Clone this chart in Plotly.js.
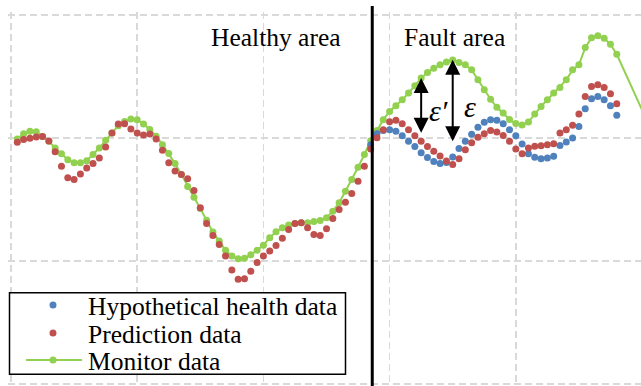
<!DOCTYPE html>
<html>
<head>
<meta charset="utf-8">
<script src="https://cdn.plot.ly/plotly-3.0.1.min.js"></script>
<style>html,body{margin:0;padding:0;background:#fff;}#chart{width:641px;height:386px;}</style>
</head>
<body>
<div id="chart"></div>
<script>
// sample index of each point (x axis)
const monitorX = [0,1,2,3,4,5,6,7,8,9,10,11,12,13,14,15,16,17,18,19,20,21,22,23,24,25,26,27,28,29,30,31,32,33,34,35,36,37,38,39,40,41,42,43,44,45,46,47,48,49,50,51,52,53,54,55,56,57,58,59,60,61,62,63,64,65,66,67,68,69,70,71,72,73,74,75,76,77,78,79,80,81,82,83,84,85,86,87,88,89,90,91,92,93,94,95,100];
const monitorData = [1.992,2.035,2.054,2.051,2.013,1.973,1.919,1.871,1.824,1.798,1.798,1.816,1.865,1.919,1.981,2.041,2.100,2.135,2.154,2.149,2.114,2.070,2.015,1.946,1.873,1.792,1.703,1.605,1.519,1.427,1.332,1.235,1.162,1.087,1.040,1.019,1.023,1.050,1.087,1.129,1.189,1.238,1.271,1.292,1.305,1.311,1.311,1.322,1.330,1.352,1.405,1.473,1.567,1.662,1.762,1.865,1.978,2.060,2.149,2.216,2.262,2.311,2.365,2.424,2.487,2.532,2.568,2.595,2.617,2.635,2.613,2.595,2.554,2.473,2.392,2.315,2.250,2.203,2.151,2.118,2.106,2.130,2.195,2.257,2.311,2.365,2.411,2.473,2.554,2.595,2.735,2.816,2.832,2.811,2.762,2.681,2.116];

const predictionX = [0,1,2,3,4,5,6,7,8,9,10,11,12,13,14,15,16,17,18,19,20,21,22,23,24,25,26,27,28,29,30,31,32,33,34,35,36,37,38,39,40,41,42,43,44,45,46,47,48,49,50,51,52,53,54,55,56,57,58,59,60,61,62,63,64,65,66,67,68,69,70,71,72,73,74,75,76,77,78,79,80,81,82,83,84,85,86,87,88,89,90,91,92,93,94,95];
const predictionData = [1.965,1.987,1.997,2.008,2.013,1.976,1.889,1.770,1.676,1.662,1.708,1.757,1.792,1.838,1.927,2.041,2.114,2.116,2.073,2.041,2.025,2.033,1.992,1.900,1.798,1.731,1.703,1.668,1.573,1.433,1.305,1.208,1.135,1.040,0.927,0.851,0.855,0.916,0.987,1.040,1.081,1.127,1.184,1.257,1.305,1.311,1.271,1.216,1.208,1.262,1.346,1.419,1.478,1.549,1.648,1.770,1.911,2.003,2.068,2.132,2.145,2.116,2.068,2.019,1.974,1.930,1.892,1.853,1.812,1.784,1.832,1.905,1.962,2.007,2.035,2.060,2.049,2.021,1.973,1.911,1.871,1.919,1.932,1.938,1.946,1.954,2.041,2.068,2.103,2.195,2.338,2.419,2.432,2.411,2.360,2.278];

const healthX = [56,57,58,59,60,61,62,63,64,65,66,67,68,69,70,71,72,73,74,75,76,77,78,79,80,81,82,83,84,85,86,87,88,89,90,91,92,93,94,95];
const healthData = [1.946,2.035,2.060,2.068,2.054,2.019,1.973,1.930,1.881,1.841,1.808,1.792,1.800,1.845,1.914,1.974,2.031,2.088,2.128,2.149,2.145,2.116,2.068,2.019,1.952,1.871,1.843,1.832,1.838,1.851,1.940,1.968,2.000,2.094,2.238,2.319,2.338,2.311,2.262,2.184];

const seriesNames = ['Hypothetical health data', 'Prediction data', 'Monitor data'];
const seriesColors = ['#4F81BD', '#C0504D', '#92D050'];
const areaLabels = ['Healthy area', 'Fault area'];
const faultStart = 56.25;      // boundary between healthy and fault area (sample index)
const epsPrimeIdx = 64;        // ε′ arrow position
const epsIdx = 69;             // ε arrow position
const epsPrimeSpan = [2.500, 2.043];
const epsSpan = [2.649, 1.973];

const serif = '"Liberation Serif", "Times New Roman", Times, serif';

// page-pixel -> paper helpers (for the hand-drawn legend box and labels)
const W = 641, H = 386, M = {l: 8, r: 0, t: 12, b: 0};
const PW = W - M.l - M.r, PH = H - M.t - M.b;
const px = v => (v - M.l) / PW;
const py = v => (H - M.b - v) / PH;

const traces = [
  {x: monitorX, y: monitorData, name: seriesNames[2], type: 'scatter', mode: 'lines+markers',
   line: {color: seriesColors[2], width: 2}, marker: {color: seriesColors[2], size: 7}},
  {x: healthX, y: healthData, name: seriesNames[0], type: 'scatter', mode: 'markers',
   marker: {color: seriesColors[0], size: 7}},
  {x: predictionX, y: predictionData, name: seriesNames[1], type: 'scatter', mode: 'markers',
   marker: {color: seriesColors[1], size: 7}}
];

const gridStyle = {showgrid: true, gridcolor: '#d9d9d9', gridwidth: 1.5, griddash: '7px,4px',
  zeroline: false, showticklabels: false, ticks: '', showline: false, fixedrange: true};

// legend (drawn by hand to match the compact row spacing of the original)
const legRows = [305, 333, 360];
const legShapes = [
  {type: 'rect', xref: 'paper', yref: 'paper', x0: px(9.5), x1: px(345.5), y0: py(374.3), y1: py(292.7),
   fillcolor: '#fff', line: {color: '#000', width: 1.5}, layer: 'above'},
  {type: 'line', xref: 'paper', yref: 'paper', x0: px(26), x1: px(82), y0: py(legRows[2]), y1: py(legRows[2]),
   line: {color: seriesColors[2], width: 2}, layer: 'above'}
];
legRows.forEach((r, i) => {
  legShapes.push({type: 'circle', xref: 'paper', yref: 'paper', x0: px(49.5), x1: px(56.5), y0: py(r + 3.5), y1: py(r - 3.5),
    fillcolor: seriesColors[i], line: {width: 0}, layer: 'above'});
});
const legAnn = seriesNames.map((n, i) => ({xref: 'paper', yref: 'paper', x: px(86), y: py(legRows[i] + 1.5), text: n,
  showarrow: false, xanchor: 'left', yanchor: 'middle', font: {family: serif, size: 25.5, color: '#000'}}));

const layout = {
  width: W, height: H,
  margin: {l: M.l, r: M.r, t: M.t, b: M.b, pad: 0},
  paper_bgcolor: '#fff', plot_bgcolor: '#fff',
  font: {family: serif, color: '#000'},
  showlegend: false,
  xaxis: Object.assign({range: [-1.475, 98.84], tick0: -1, dtick: 20}, gridStyle),
  yaxis: Object.assign({range: [-0.01626, 3.0244], tick0: 0, dtick: 1}, gridStyle),
  shapes: [
    {type: 'line', xref: 'x', yref: 'paper', x0: faultStart, x1: faultStart, y0: -0.01, y1: py(6),
     line: {color: '#000', width: 3}, layer: 'above'}
  ].concat(legShapes),
  annotations: [
    {xref: 'paper', yref: 'paper', x: px(276), y: py(38), text: areaLabels[0], showarrow: false,
     font: {family: serif, size: 25.5, color: '#000'}, xanchor: 'center', yanchor: 'middle'},
    {xref: 'paper', yref: 'paper', x: px(454), y: py(38), text: areaLabels[1], showarrow: false,
     font: {family: serif, size: 25.5, color: '#000'}, xanchor: 'center', yanchor: 'middle'},
    {xref: 'x', yref: 'y', x: epsPrimeIdx, y: epsPrimeSpan[1], axref: 'x', ayref: 'y',
     ax: epsPrimeIdx, ay: epsPrimeSpan[0], text: '', showarrow: true, arrowhead: 2, startarrowhead: 2,
     arrowside: 'end+start', arrowsize: 1.5, startarrowsize: 1.5, arrowwidth: 2, arrowcolor: '#000',
     standoff: 0, startstandoff: 0},
    {xref: 'x', yref: 'y', x: epsIdx, y: epsSpan[1], axref: 'x', ayref: 'y',
     ax: epsIdx, ay: epsSpan[0], text: '', showarrow: true, arrowhead: 2, startarrowhead: 2,
     arrowside: 'end+start', arrowsize: 1.5, startarrowsize: 1.5, arrowwidth: 2, arrowcolor: '#000',
     standoff: 0, startstandoff: 0},
    {xref: 'x', yref: 'y', x: epsPrimeIdx + 2.75, y: 2.225, text: '<i>ε′</i>', showarrow: false,
     font: {family: serif, size: 30, color: '#000'}, xanchor: 'center', yanchor: 'middle'},
    {xref: 'x', yref: 'y', x: epsIdx + 2.75, y: 2.26, text: '<i>ε</i>', showarrow: false,
     font: {family: serif, size: 30, color: '#000'}, xanchor: 'center', yanchor: 'middle'}
  ].concat(legAnn)
};

Plotly.newPlot('chart', traces, layout, {staticPlot: true, displayModeBar: false});
</script>
</body>
</html>
